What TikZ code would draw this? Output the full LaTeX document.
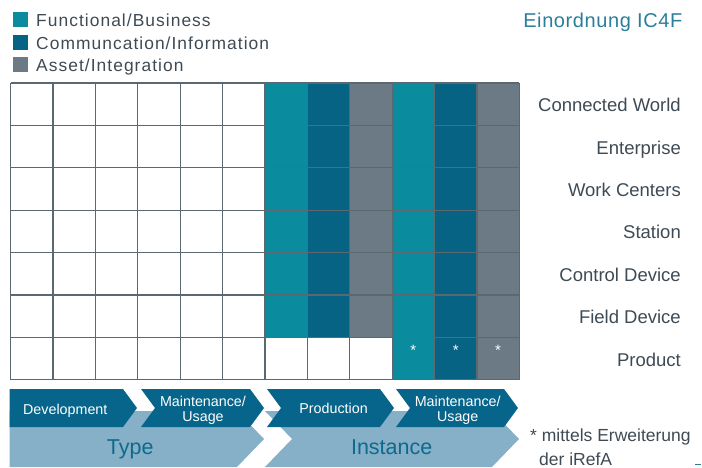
\documentclass[tikz,border=0pt]{standalone}
\usepackage{fontspec}
\setmainfont{Liberation Sans}
\newfontfamily\legfont[LetterSpace=6]{Liberation Sans}
\newfontfamily\titfont[LetterSpace=3]{Liberation Sans}
\definecolor{cteal}{HTML}{0A8C9E}
\definecolor{cdark}{HTML}{066384}
\definecolor{cgray}{HTML}{6B7A84}
\definecolor{cgrid}{HTML}{5C6870}
\definecolor{clight}{HTML}{86AFC8}
\definecolor{carrow}{HTML}{07648A}
\definecolor{ctext}{HTML}{3E4A54}
\definecolor{ctitle}{HTML}{2A7E9C}
\definecolor{ctype}{HTML}{0E6A8C}
\tikzset{
  gridline/.style={draw=cgrid,line width=1.2pt},
  legendsq/.style={minimum width=15pt,minimum height=15pt,inner sep=0pt},
  legendtxt/.style={anchor=base west,inner sep=0pt,text=ctext,font=\legfont\fontsize{17.4pt}{20pt}\selectfont},
  rowlabel/.style={anchor=base east,inner sep=0pt,text=ctext,font=\fontsize{18.5pt}{21pt}\selectfont},
  asterisk/.style={text=white,inner sep=0pt,font=\fontsize{15pt}{18pt}\selectfont},
  phasetxt/.style={anchor=base,text=white,align=center,inner sep=0pt,font=\fontsize{14.3pt}{15pt}\selectfont},
  bigtxt/.style={anchor=base,text=ctype,inner sep=0pt,font=\fontsize{21.5pt}{24pt}\selectfont},
  notetxt/.style={anchor=base west,inner sep=0pt,text=ctext,font=\fontsize{17.5pt}{20pt}\selectfont},
}
\begin{document}
\begin{tikzpicture}[x=1pt,y=-1pt]
\useasboundingbox (0,0) rectangle (702,468);
% legend
\node[legendsq,fill=cteal] (lq1) at (20.5,20) {};
\node[legendsq,fill=cdark] (lq2) at (20.5,42.5) {};
\node[legendsq,fill=cgray] (lq3) at (20.5,65) {};
\node[legendtxt] (lt1) at (36,26.7) {Functional/Business};
\node[legendtxt] (lt2) at (36,49.3) {Communcation/Information};
\node[legendtxt] (lt3) at (36,71.7) {Asset/Integration};
\node[anchor=base east,inner sep=0pt,text=ctitle,font=\titfont\fontsize{20pt}{22pt}\selectfont] (title) at (682.5,27.3) {Einordnung IC4F};
% coloured cells
\foreach \r in {0,...,5} {
  \foreach \c/\col in {6/cteal,7/cdark,8/cgray,9/cteal,10/cdark,11/cgray} {
    \fill[\col] ({10.5+\c*42.4},{83+\r*42.4}) rectangle ++(42.4,42.4);
  }
}
\foreach \c/\col in {9/cteal,10/cdark,11/cgray}
  \fill[\col] ({10.5+\c*42.4},{83+6*42.4}) rectangle ++(42.4,42.4);
% grid
\foreach \i in {0,...,12} \draw[gridline] ({10.5+\i*42.4},83) -- ({10.5+\i*42.4},379.8);
\foreach \j in {0,...,7} \draw[gridline] (10.5,{83+\j*42.4}) -- (519.3,{83+\j*42.4});
% asterisks
\node[asterisk] (ast1) at ({10.5+9.5*42.4},350) {*};
\node[asterisk] (ast2) at ({10.5+10.5*42.4},350) {*};
\node[asterisk] (ast3) at ({10.5+11.5*42.4},350) {*};
% row labels
\node[rowlabel] (r1) at (681,111.7) {Connected World};
\node[rowlabel] (r2) at (681,154.1) {Enterprise};
\node[rowlabel] (r3) at (681,196.5) {Work Centers};
\node[rowlabel] (r4) at (681,238.9) {Station};
\node[rowlabel] (r5) at (681,281.3) {Control Device};
\node[rowlabel] (r6) at (681,323.7) {Field Device};
\node[rowlabel] (r7) at (681,366.1) {Product};
% light arrows
\fill[clight] (9.5,411) -- (237,411) -- (264,439) -- (237,467) -- (9.5,467) -- cycle;
\fill[clight] (265,411) -- (492,411) -- (519,439) -- (492,467) -- (265,467) -- (292,439) -- cycle;
% dark arrows
\fill[carrow] (9.5,389) -- (123,389) -- (137,408) -- (123,427) -- (9.5,427) -- cycle;
\fill[carrow] (141,389) -- (250,389) -- (264,408) -- (250,427) -- (141,427) -- (155,408) -- cycle;
\fill[carrow] (267,389) -- (380,389) -- (394,408) -- (380,427) -- (267,427) -- (281,408) -- cycle;
\fill[carrow] (396,389) -- (504,389) -- (518,408) -- (504,427) -- (396,427) -- (410,408) -- cycle;
\node[phasetxt] (p1) at (65.3,414.3) {Development};
\node[phasetxt] (p2) at (203,421.5) {Maintenance/\\Usage};
\node[phasetxt] (p3) at (333.6,413) {Production};
\node[phasetxt] (p4) at (457.7,421) {Maintenance/\\Usage};
\node[bigtxt] (ty) at (130.3,454) {Type};
\node[bigtxt] (in) at (391.7,454) {Instance};
% note
\node[notetxt] (n1) at (530,441.7) {* mittels Erweiterung};
\node[notetxt] (n2) at (539,465) {der iRefA};
\coordinate (d1) at (695,464.5);
\coordinate (d2) at (701,464.5);
\draw[ctitle,line width=1pt] (d1) -- (d2);
\end{tikzpicture}
\end{document}
